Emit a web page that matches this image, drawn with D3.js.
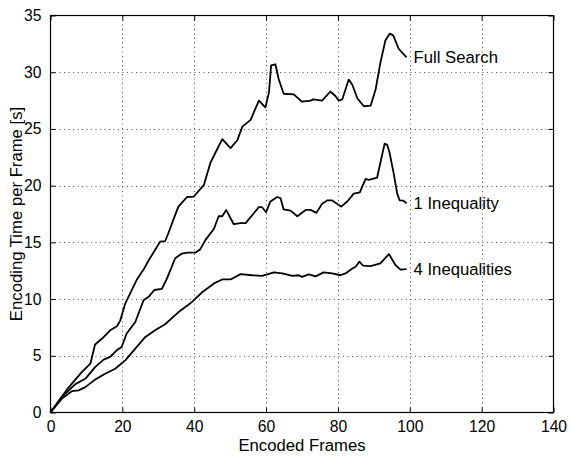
<!DOCTYPE html>
<html>
<head>
<meta charset="utf-8">
<script src="https://cdn.jsdelivr.net/npm/d3@7"></script>
<style>
  html, body { margin: 0; padding: 0; background: #fff; }
  svg { display: block; }
  text { font-family: "Liberation Sans", Arial, Helvetica, sans-serif; fill: #000; }
</style>
</head>
<body>
<svg id="chart" width="571" height="456"></svg>
<script>
// Encoding time per frame (seconds) against number of encoded frames
const fullSearchFrames = [0, 2.5, 5, 8.7, 11.1, 12.4, 14.3, 16.6, 18.5, 19.4, 20.8, 24, 25.9, 27.3, 30.5, 31.9, 32.8, 34.2, 35.6, 38, 39.9, 42.7, 44.5, 45.9, 47.8, 50.1, 52, 53.4, 55.7, 58, 59.8, 60.8, 61.4, 62.6, 63.5, 64.9, 67.7, 70, 72.4, 73.1, 75.6, 77.9, 79.3, 80.2, 81.2, 83, 84, 85.4, 87.2, 89.1, 90.5, 91.8, 93.2, 94.4, 95.4, 96.9, 99.1];
const fullSearchTime   = [0, 1.1, 2.2, 3.56, 4.3, 6.0, 6.5, 7.25, 7.6, 8.1, 9.6, 11.7, 12.6, 13.4, 15.06, 15.1, 15.8, 17, 18.15, 19, 19.04, 20.07, 22, 22.9, 24.1, 23.3, 24, 25.2, 25.8, 27.5, 26.9, 28.2, 30.6, 30.7, 29.4, 28.1, 28.05, 27.4, 27.5, 27.6, 27.5, 28.3, 27.9, 27.5, 27.6, 29.35, 28.9, 27.7, 27, 27.05, 28.5, 30.8, 32.8, 33.4, 33.25, 32.07, 31.3];

const oneIneqFrames = [0, 3.1, 6.9, 9.7, 12.4, 14.8, 16.6, 18.5, 19.8, 21.2, 23.6, 25.9, 27.3, 28.9, 31, 32.4, 34.7, 36.5, 38.2, 40.4, 41.7, 43.1, 45.5, 46.8, 47.8, 48.9, 51, 52.9, 54.3, 56.6, 58, 58.9, 60, 61.2, 63.1, 64, 64.9, 66.8, 68.7, 71, 72.4, 74, 75.6, 77, 78.4, 80.9, 82.6, 84.4, 86.1, 87.7, 88.6, 90.9, 91.8, 93, 93.7, 94.4, 95.5, 96.5, 97.2, 98.2, 99.1];
const oneIneqTime   = [0, 1.36, 2.5, 2.97, 4.0, 4.66, 4.9, 5.5, 5.77, 6.96, 7.98, 9.9, 10.2, 10.8, 10.9, 11.8, 13.6, 14.0, 14.1, 14.1, 14.4, 15.2, 16.2, 17.3, 17.3, 17.86, 16.6, 16.7, 16.7, 17.57, 18.1, 18.1, 17.66, 18.6, 19, 18.9, 17.9, 17.8, 17.3, 17.86, 17.86, 17.6, 18.4, 18.7, 18.7, 18.15, 18.6, 19.3, 19.4, 20.6, 20.5, 20.7, 22, 23.7, 23.6, 22.87, 21.1, 19.3, 18.7, 18.68, 18.45];

const fourIneqFrames = [0, 3.1, 5.9, 7.8, 9.7, 12.4, 15.2, 18, 20.8, 23.6, 26.4, 29.1, 31.9, 34.7, 36.2, 38.2, 39.4, 42.2, 45.5, 47.8, 50.1, 52.9, 56.1, 58.9, 62.2, 64.5, 67.3, 69.1, 70, 71.9, 73.8, 76, 78.4, 80.7, 82.1, 84, 84.9, 86, 87, 89.1, 91.8, 94.2, 96, 97.4, 99.1];
const fourIneqTime   = [0, 1.2, 1.88, 1.95, 2.24, 2.9, 3.42, 3.86, 4.6, 5.63, 6.66, 7.25, 7.78, 8.58, 9.0, 9.46, 9.75, 10.6, 11.38, 11.73, 11.73, 12.2, 12.1, 12.05, 12.35, 12.26, 12.05, 12.1, 11.96, 12.17, 12.0, 12.35, 12.26, 12.1, 12.26, 12.7, 12.85, 13.3, 12.94, 12.9, 13.15, 13.97, 13.0, 12.6, 12.64];

const seriesNames = ["Full Search", "1 Inequality", "4 Inequalities"];
const xTicks = [0, 20, 40, 60, 80, 100, 120, 140];
const yTicks = [0, 5, 10, 15, 20, 25, 30, 35];

const series = [
  { name: seriesNames[0], frames: fullSearchFrames, time: fullSearchTime },
  { name: seriesNames[1], frames: oneIneqFrames, time: oneIneqTime },
  { name: seriesNames[2], frames: fourIneqFrames, time: fourIneqTime }
];

const svg = d3.select("#chart");
const plotLeft = 50.5, plotRight = 553.5, plotTop = 15.5, plotBottom = 412.5;
const labelSize = 16.7;
const tickSize = 15.7;

const x = d3.scaleLinear().domain([0, 140]).range([plotLeft, plotRight]);
const y = d3.scaleLinear().domain([0, 35]).range([plotBottom, plotTop]);

// dotted grid
const grid = svg.append("g").attr("stroke", "#555").attr("stroke-width", 1)
  .attr("stroke-dasharray", "1,3.5").attr("fill", "none");
xTicks.slice(1, -1).forEach(t => {
  grid.append("line").attr("x1", Math.round(x(t)) + 0.5).attr("x2", Math.round(x(t)) + 0.5)
    .attr("y1", plotTop).attr("y2", plotBottom);
});
yTicks.slice(1, -1).forEach(t => {
  grid.append("line").attr("y1", Math.round(y(t)) + 0.5).attr("y2", Math.round(y(t)) + 0.5)
    .attr("x1", plotLeft).attr("x2", plotRight);
});

// axes with inward ticks on all four sides
const tickLen = 5;
const xAxis = d3.axisBottom(x).tickValues(xTicks).tickSizeInner(-tickLen).tickSizeOuter(0).tickPadding(8);
const yAxis = d3.axisLeft(y).tickValues(yTicks).tickSizeInner(-tickLen).tickSizeOuter(0).tickPadding(9);
const xTopAxis = d3.axisTop(x).tickValues(xTicks).tickSizeInner(-tickLen).tickSizeOuter(0).tickFormat("");
const yRightAxis = d3.axisRight(y).tickValues(yTicks).tickSizeInner(-tickLen).tickSizeOuter(0).tickFormat("");

function styleAxis(g) {
  g.select(".domain").remove();
  g.selectAll("line").attr("stroke", "#000").attr("stroke-width", 1);
  g.selectAll("text").attr("font-size", tickSize).attr("font-family", "Liberation Sans, Arial, sans-serif").attr("fill", "#000");
}
svg.append("g").attr("transform", `translate(0,${plotBottom})`).call(xAxis).call(styleAxis);
svg.append("g").attr("transform", `translate(${plotLeft},0)`).call(yAxis).call(styleAxis);
svg.append("g").attr("transform", `translate(0,${plotTop})`).call(xTopAxis).call(styleAxis);
svg.append("g").attr("transform", `translate(${plotRight},0)`).call(yRightAxis).call(styleAxis);

// plot frame
svg.append("rect").attr("x", plotLeft).attr("y", plotTop)
  .attr("width", plotRight - plotLeft).attr("height", plotBottom - plotTop)
  .attr("fill", "none").attr("stroke", "#000").attr("stroke-width", 1.2);

// curves, each labelled at its last point
const line = d3.line().x(d => x(d[0])).y(d => y(d[1]));
series.forEach(s => {
  const pts = s.frames.map((f, i) => [f, s.time[i]]);
  svg.append("path").datum(pts).attr("d", line)
    .attr("fill", "none").attr("stroke", "#000").attr("stroke-width", 1.8)
    .attr("stroke-linejoin", "round");
  const last = pts[pts.length - 1];
  svg.append("text").attr("x", x(last[0]) + 7).attr("y", y(last[1]) + 6)
    .attr("font-size", labelSize).text(s.name);
});

// axis titles
svg.append("text").attr("x", (plotLeft + plotRight) / 2).attr("y", 450.5).attr("text-anchor", "middle")
  .attr("font-size", labelSize).text("Encoded Frames");
svg.append("text").attr("transform", `translate(21.5,${(plotTop + plotBottom) / 2}) rotate(-90)`)
  .attr("text-anchor", "middle").attr("font-size", labelSize).text("Encoding Time per Frame [s]");
</script>
</body>
</html>
